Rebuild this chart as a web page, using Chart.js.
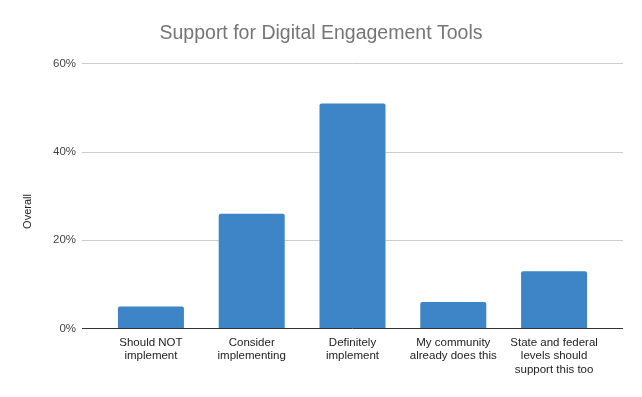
<!DOCTYPE html>
<html>
<head>
<meta charset="utf-8">
<script src="https://cdn.jsdelivr.net/npm/chart.js@4/dist/chart.umd.min.js"></script>
<style>
  html, body { margin: 0; padding: 0; background: #ffffff; }
  #wrap { width: 642px; height: 397px; }
</style>
</head>
<body>
<div id="wrap"><canvas id="c" width="642" height="397"></canvas></div>
<script>
// ---- data ----
const chartTitle = "Support for Digital Engagement Tools";
const yAxisTitle = "Overall";
const categories = [
  ["Should NOT", "implement"],
  ["Consider", "implementing"],
  ["Definitely", "implement"],
  ["My community", "already does this"],
  ["State and federal", "levels should", "support this too"]
];
const overallValues = [5, 26, 51, 6, 13];
const yTickValues = [0, 20, 40, 60];

// ---- style ----
const barColor = "#3d85c6";
const fontFamily = "'Liberation Sans', Arial, sans-serif";

const points = overallValues.map((v, i) => ({ x: i, y: v }));

const yTitlePlugin = {
  id: "yTitlePlugin",
  afterDraw(chart) {
    const ctx = chart.ctx;
    ctx.save();
    ctx.translate(27.5, 211.5);
    ctx.rotate(-Math.PI / 2);
    ctx.font = "11px " + fontFamily;
    ctx.fillStyle = "#222222";
    ctx.textAlign = "center";
    ctx.textBaseline = "middle";
    ctx.fillText(yAxisTitle, 0, 0);
    ctx.restore();
  }
};

new Chart(document.getElementById("c"), {
  type: "bar",
  data: {
    datasets: [{
      label: yAxisTitle,
      data: points,
      backgroundColor: barColor,
      borderWidth: 0,
      borderRadius: { topLeft: 2, topRight: 2, bottomLeft: 0, bottomRight: 0 },
      borderSkipped: "bottom",
      categoryPercentage: 1.0,
      barPercentage: 0.655
    }]
  },
  options: {
    responsive: false,
    animation: false,
    layout: { padding: 0 },
    plugins: {
      legend: { display: false },
      tooltip: { enabled: false },
      title: {
        display: true,
        text: chartTitle,
        color: "#757575",
        font: { family: fontFamily, size: 19.5, weight: "normal" },
        padding: { top: 21.5, bottom: 19 }
      }
    },
    scales: {
      x: {
        type: "linear",
        offset: false,
        min: -0.684,
        max: 4.684,
        grid: { display: false, drawTicks: false, offset: false },
        border: { display: false },
        afterFit(scale) { scale.height = 397 - 328.5; },
        ticks: {
          stepSize: 1,
          includeBounds: false,
          autoSkip: false,
          maxRotation: 0,
          minRotation: 0,
          padding: 7,
          color: "#222222",
          font: { family: fontFamily, size: 11.5, lineHeight: 1.2 },
          callback(v) {
            return Number.isInteger(v) && categories[v] ? categories[v] : "";
          }
        }
      },
      y: {
        min: 0,
        max: 60,
        afterFit(scale) { scale.width = 82; },
        afterBuildTicks(scale) {
          scale.ticks = yTickValues.map(v => ({ value: v }));
        },
        grid: {
          drawTicks: false,
          color(ctx) { return ctx.tick && ctx.tick.value === 0 ? "#333333" : "#cccccc"; },
          lineWidth: 1
        },
        border: { display: false },
        ticks: {
          padding: 6,
          color: "#444444",
          font: { family: fontFamily, size: 11.5 },
          callback(v) { return v + "%"; }
        }
      },
      yRight: {
        position: "right",
        display: true,
        min: 0,
        max: 60,
        grid: { display: false, drawTicks: false },
        border: { display: false },
        ticks: { display: false },
        afterFit(scale) { scale.width = 19; }
      }
    }
  },
  plugins: [yTitlePlugin]
});
</script>
</body>
</html>
